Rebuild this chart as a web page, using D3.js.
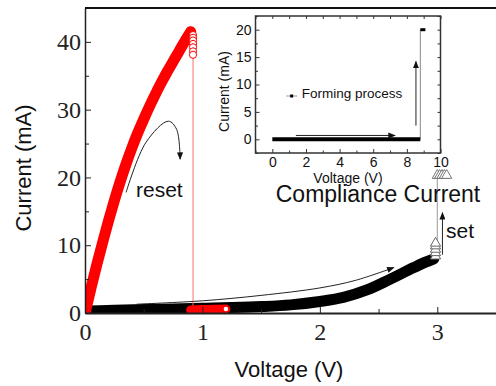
<!DOCTYPE html>
<html>
<head>
<meta charset="utf-8">
<script src="https://cdn.jsdelivr.net/npm/d3@7"></script>
<style>
  body { margin: 0; background: #fff; }
  svg { display: block; }
  .sans { font-family: "Liberation Sans", Arial, sans-serif; }
  .main-axis path, .main-axis line { stroke: #222; }
  .inset-axis path, .inset-axis line { stroke: #333; }
</style>
</head>
<body>
<svg width="496" height="386"></svg>
<script>
var svg = d3.select('svg');

// Main plot data
var resetV = [0, 0.05, 0.1, 0.15, 0.2, 0.25, 0.3, 0.35, 0.4, 0.45, 0.5, 0.55, 0.6, 0.65, 0.7, 0.75, 0.8, 0.85, 0.9];
var resetI = [0, 3.6, 7.1, 10.4, 13.6, 16.6, 19.4, 22.0, 24.4, 26.6, 28.6, 30.5, 32.3, 34.0, 35.6, 37.1, 38.6, 40.1, 41.5];
var resetDropI = [41.0, 40.6, 40.2, 39.7, 39.2, 38.6, 38.1];
var resetLowV = [0.9, 1.0, 1.1, 1.2];
var resetLowI = [0.45, 0.5, 0.55, 0.6];

var setV = [0, 0.25, 0.5, 0.75, 1.0, 1.25, 1.5, 1.75, 2.0, 2.2, 2.4, 2.6, 2.8, 2.9, 2.97];
var setI = [0.3, 0.4, 0.5, 0.6, 0.7, 0.8, 0.95, 1.2, 1.7, 2.3, 3.4, 5.0, 6.7, 7.5, 8.0];
var setStepI = [8.4, 8.9, 9.4, 9.9, 10.3];
var complianceV = [3.0, 3.02, 3.04, 3.06, 3.08];
var complianceI = 20.3;

// Inset data (forming)
var formV = [0, 8.8, 8.8, 9.1];
var formI = [0, 0, 20, 20];

// Ticks
var mainXTicks = [0, 1, 2, 3];
var mainXMinor = [0.5, 1.5, 2.5, 3.5];
var mainYTicks = [0, 10, 20, 30, 40];
var mainYMinor = [5, 15, 25, 35, 45];
var insetXTicks = [0, 2, 4, 6, 8, 10];
var insetXMinor = [-1, 1, 3, 5, 7, 9];
var insetYTicks = [0, 5, 10, 15, 20];
var insetYMinor = [-2.5, 2.5, 7.5, 12.5, 17.5, 22.5];

// Annotation arrows (data coords)
var resetArrow = [[0.35, 17.8], [0.52, 25.2], [0.71, 28.3], [0.78, 27.1], [0.81, 22.7]];
var setArrow = [[0.44, 1.3], [1.0, 1.8], [1.5, 2.6], [2.0, 3.7], [2.3, 4.8], [2.63, 6.7]];

var serifFont = '"Liberation Serif", "Times New Roman", serif';
var sansFont = '"Liberation Sans", Arial, sans-serif';

// Scales
var x = d3.scaleLinear().domain([0, 3.5]).range([85, 496]);
var y = d3.scaleLinear().domain([0, 45]).range([313, 8]);
var ix = d3.scaleLinear().domain([-1, 10]).range([255.5, 440.5]);
var iy = d3.scaleLinear().domain([-2.5, 22.5]).range([153, 16]);

var defs = svg.append('defs');
defs.append('marker')
    .attr('id', 'arrow')
    .attr('viewBox', '0 -4 10 8')
    .attr('refX', 9).attr('refY', 0)
    .attr('markerWidth', 8).attr('markerHeight', 6)
    .attr('markerUnits', 'userSpaceOnUse')
    .attr('orient', 'auto')
  .append('path')
    .attr('d', 'M0,-4L10,0L0,4Z')
    .attr('fill', '#111');
defs.append('clipPath').attr('id', 'plotClip')
  .append('rect')
    .attr('x', 85).attr('y', 8).attr('width', 411).attr('height', 305);

var plotG = svg.append('g').attr('clip-path', 'url(#plotClip)');

var line = d3.line()
    .x(function(d) { return x(d[0]); })
    .y(function(d) { return y(d[1]); })
    .curve(d3.curveMonotoneX);

// Set curve band (black triangles)
plotG.append('path')
    .datum(setV.map(function(v, i) { return [v, setI[i]]; }))
    .attr('d', line)
    .attr('fill', 'none')
    .attr('stroke', '#000')
    .attr('stroke-width', 11)
    .attr('stroke-linecap', 'round');

var tri = d3.symbol().type(d3.symbolTriangle).size(45);

// thin vertical to compliance
plotG.append('line')
    .attr('x1', x(3.0)).attr('x2', x(3.0))
    .attr('y1', y(setStepI[setStepI.length - 1])).attr('y2', y(complianceI))
    .attr('stroke', '#999').attr('stroke-width', 1);

plotG.selectAll('.step')
    .data(setStepI)
    .enter().append('path')
    .attr('class', 'step')
    .attr('d', tri)
    .attr('transform', function(d) { return 'translate(' + [x(2.985), y(d)] + ')'; })
    .attr('fill', '#fff')
    .attr('stroke', '#666')
    .attr('stroke-width', 1);

plotG.selectAll('.comp')
    .data(complianceV)
    .enter().append('path')
    .attr('class', 'comp')
    .attr('d', tri)
    .attr('transform', function(d) { return 'translate(' + [x(d), y(complianceI)] + ')'; })
    .attr('fill', '#fff')
    .attr('stroke', '#777')
    .attr('stroke-width', 1);

// Reset curve (red circles)
plotG.append('path')
    .datum(resetV.map(function(v, i) { return [v, resetI[i]]; }))
    .attr('d', line)
    .attr('fill', 'none')
    .attr('stroke', '#ff0000')
    .attr('stroke-width', 11)
    .attr('stroke-linecap', 'round');

plotG.append('line')
    .attr('x1', x(0.92)).attr('x2', x(0.92))
    .attr('y1', y(resetDropI[resetDropI.length - 1])).attr('y2', y(resetLowI[0]))
    .attr('stroke', '#ff7070').attr('stroke-width', 1);

plotG.selectAll('.drop')
    .data(resetDropI)
    .enter().append('circle')
    .attr('class', 'drop')
    .attr('cx', x(0.92))
    .attr('cy', function(d) { return y(d); })
    .attr('r', 3.6)
    .attr('fill', '#fff')
    .attr('stroke', '#ff0000')
    .attr('stroke-width', 1);

plotG.append('path')
    .datum(resetLowV.map(function(v, i) { return [v, resetLowI[i]]; }))
    .attr('d', line)
    .attr('fill', 'none')
    .attr('stroke', '#ff0000')
    .attr('stroke-width', 9)
    .attr('stroke-linecap', 'round');

plotG.append('circle')
    .attr('cx', x(resetLowV[resetLowV.length - 1]))
    .attr('cy', y(resetLowI[resetLowI.length - 1]))
    .attr('r', 3)
    .attr('fill', '#fff')
    .attr('stroke', '#ff0000')
    .attr('stroke-width', 1.5);

// Annotation arrows
var arrowLine = d3.line()
    .x(function(d) { return x(d[0]); })
    .y(function(d) { return y(d[1]); })
    .curve(d3.curveCatmullRom);

svg.append('path')
    .attr('d', arrowLine(resetArrow))
    .attr('fill', 'none').attr('stroke', '#222').attr('stroke-width', 1)
    .attr('marker-end', 'url(#arrow)');
svg.append('path')
    .attr('d', arrowLine(setArrow))
    .attr('fill', 'none').attr('stroke', '#222').attr('stroke-width', 1)
    .attr('marker-end', 'url(#arrow)');
svg.append('line')
    .attr('x1', x(3.044)).attr('x2', x(3.044))
    .attr('y1', y(8.6)).attr('y2', y(14.8))
    .attr('stroke', '#222').attr('stroke-width', 1)
    .attr('marker-end', 'url(#arrow)');

function serifTicks(g) {
    g.selectAll('text')
        .style('font-family', serifFont)
        .style('font-size', '24px')
        .attr('fill', '#222');
}
function sansTicks(g) {
    g.selectAll('text')
        .style('font-family', sansFont)
        .style('font-size', '14px')
        .attr('fill', '#111');
}

// Main axes
svg.append('g').attr('class', 'main-axis')
    .attr('transform', 'translate(0,' + y(0) + ')')
    .call(d3.axisBottom(x).tickValues(mainXTicks).tickFormat(d3.format('d'))
        .tickSizeInner(-6).tickSizeOuter(0).tickPadding(10))
    .call(serifTicks)
    .call(function(g) { g.select('.domain').attr('stroke-width', 2); });
svg.append('g').attr('class', 'main-axis')
    .attr('transform', 'translate(0,' + y(0) + ')')
    .call(d3.axisBottom(x).tickValues(mainXMinor).tickFormat('').tickSizeInner(-4).tickSizeOuter(0))
    .call(function(g) { g.select('.domain').remove(); });

svg.append('g').attr('class', 'main-axis')
    .attr('transform', 'translate(' + x(0) + ',0)')
    .call(d3.axisLeft(y).tickValues(mainYTicks).tickFormat(d3.format('d'))
        .tickSizeInner(-6).tickSizeOuter(0).tickPadding(4))
    .call(serifTicks)
    .call(function(g) { g.select('.domain').attr('stroke-width', 1.5); });
svg.append('g').attr('class', 'main-axis')
    .attr('transform', 'translate(' + x(0) + ',0)')
    .call(d3.axisLeft(y).tickValues(mainYMinor).tickFormat('').tickSizeInner(-4).tickSizeOuter(0))
    .call(function(g) { g.select('.domain').remove(); });

svg.append('line')
    .attr('x1', x(0)).attr('x2', 496)
    .attr('y1', y(45)).attr('y2', y(45))
    .attr('stroke', '#111').attr('stroke-width', 2);

// Main labels
svg.append('text').attr('class', 'sans')
    .attr('x', 289).attr('y', 377)
    .attr('text-anchor', 'middle')
    .attr('font-size', 22).attr('fill', '#111')
    .text('Voltage (V)');
svg.append('text').attr('class', 'sans')
    .attr('transform', 'translate(31,168)rotate(-90)')
    .attr('text-anchor', 'middle')
    .attr('font-size', 22).attr('fill', '#111')
    .text('Current (mA)');

svg.append('text').attr('class', 'sans')
    .attr('x', 136).attr('y', 197)
    .attr('font-size', 21).attr('fill', '#111')
    .text('reset');
svg.append('text').attr('class', 'sans')
    .attr('x', 446).attr('y', 238)
    .attr('font-size', 21).attr('fill', '#111')
    .text('set');

// Inset
var insetG = svg.append('g');
insetG.append('rect')
    .attr('x', ix(-1)).attr('y', iy(22.5))
    .attr('width', ix(10) - ix(-1)).attr('height', iy(-2.5) - iy(22.5))
    .attr('fill', '#fff').attr('stroke', '#333').attr('stroke-width', 1.5);

insetG.append('g').attr('class', 'inset-axis')
    .attr('transform', 'translate(0,' + iy(-2.5) + ')')
    .call(d3.axisBottom(ix).tickValues(insetXTicks).tickSizeInner(-4).tickSizeOuter(0).tickPadding(4))
    .call(sansTicks)
    .call(function(g) { g.select('.domain').remove(); });
insetG.append('g').attr('class', 'inset-axis')
    .attr('transform', 'translate(0,' + iy(-2.5) + ')')
    .call(d3.axisBottom(ix).tickValues(insetXMinor).tickFormat('').tickSizeInner(-2.5).tickSizeOuter(0))
    .call(function(g) { g.select('.domain').remove(); });
insetG.append('g').attr('class', 'inset-axis')
    .attr('transform', 'translate(0,' + iy(22.5) + ')')
    .call(d3.axisTop(ix).tickValues(insetXTicks.concat(insetXMinor)).tickFormat('').tickSizeInner(-3).tickSizeOuter(0))
    .call(function(g) { g.select('.domain').remove(); });
insetG.append('g').attr('class', 'inset-axis')
    .attr('transform', 'translate(' + ix(-1) + ',0)')
    .call(d3.axisLeft(iy).tickValues(insetYTicks).tickSizeInner(-4).tickSizeOuter(0).tickPadding(4))
    .call(sansTicks)
    .call(function(g) { g.select('.domain').remove(); });
insetG.append('g').attr('class', 'inset-axis')
    .attr('transform', 'translate(' + ix(-1) + ',0)')
    .call(d3.axisLeft(iy).tickValues(insetYMinor).tickFormat('').tickSizeInner(-2.5).tickSizeOuter(0))
    .call(function(g) { g.select('.domain').remove(); });
insetG.append('g').attr('class', 'inset-axis')
    .attr('transform', 'translate(' + ix(10) + ',0)')
    .call(d3.axisRight(iy).tickValues(insetYTicks.concat(insetYMinor)).tickFormat('').tickSizeInner(-3).tickSizeOuter(0))
    .call(function(g) { g.select('.domain').remove(); });

// Forming curve
insetG.append('line')
    .attr('x1', ix(8.8)).attr('x2', ix(8.8))
    .attr('y1', iy(0)).attr('y2', iy(20))
    .attr('stroke', '#888').attr('stroke-width', 1);
insetG.append('line')
    .attr('x1', ix(formV[0])).attr('x2', ix(formV[1]))
    .attr('y1', iy(formI[0])).attr('y2', iy(formI[1]))
    .attr('stroke', '#000').attr('stroke-width', 4);
insetG.append('line')
    .attr('x1', ix(formV[2])).attr('x2', ix(formV[3]))
    .attr('y1', iy(formI[2])).attr('y2', iy(formI[3]))
    .attr('stroke', '#000').attr('stroke-width', 3);

insetG.append('line')
    .attr('x1', ix(1.4)).attr('x2', ix(7.3))
    .attr('y1', iy(0.7)).attr('y2', iy(0.7))
    .attr('stroke', '#222').attr('stroke-width', 1)
    .attr('marker-end', 'url(#arrow)');
insetG.append('line')
    .attr('x1', ix(8.54)).attr('x2', ix(8.54))
    .attr('y1', iy(2.5)).attr('y2', iy(14.2))
    .attr('stroke', '#222').attr('stroke-width', 1)
    .attr('marker-end', 'url(#arrow)');

// Inset legend
insetG.append('line')
    .attr('x1', ix(0.82)).attr('x2', ix(1.48))
    .attr('y1', iy(7.9)).attr('y2', iy(7.9))
    .attr('stroke', '#999').attr('stroke-width', 1);
insetG.append('rect')
    .attr('x', ix(1.15) - 1.5).attr('y', iy(7.9) - 1.5)
    .attr('width', 3).attr('height', 3).attr('fill', '#000');
insetG.append('text').attr('class', 'sans')
    .attr('x', ix(1.75)).attr('y', 98)
    .attr('font-size', 13.5).attr('fill', '#111')
    .text('Forming process');

insetG.append('text').attr('class', 'sans')
    .attr('x', 348).attr('y', 183)
    .attr('text-anchor', 'middle')
    .attr('font-size', 14).attr('fill', '#111')
    .text('Voltage (V)');
insetG.append('text').attr('class', 'sans')
    .attr('transform', 'translate(229,91.5)rotate(-90)')
    .attr('text-anchor', 'middle')
    .attr('font-size', 14).attr('fill', '#111')
    .text('Current (mA)');

// Compliance label
svg.append('text').attr('class', 'sans')
    .attr('x', 378).attr('y', 201.5)
    .attr('text-anchor', 'middle')
    .attr('font-size', 23).attr('fill', '#111')
    .text('Compliance Current');
</script>
</body>
</html>
